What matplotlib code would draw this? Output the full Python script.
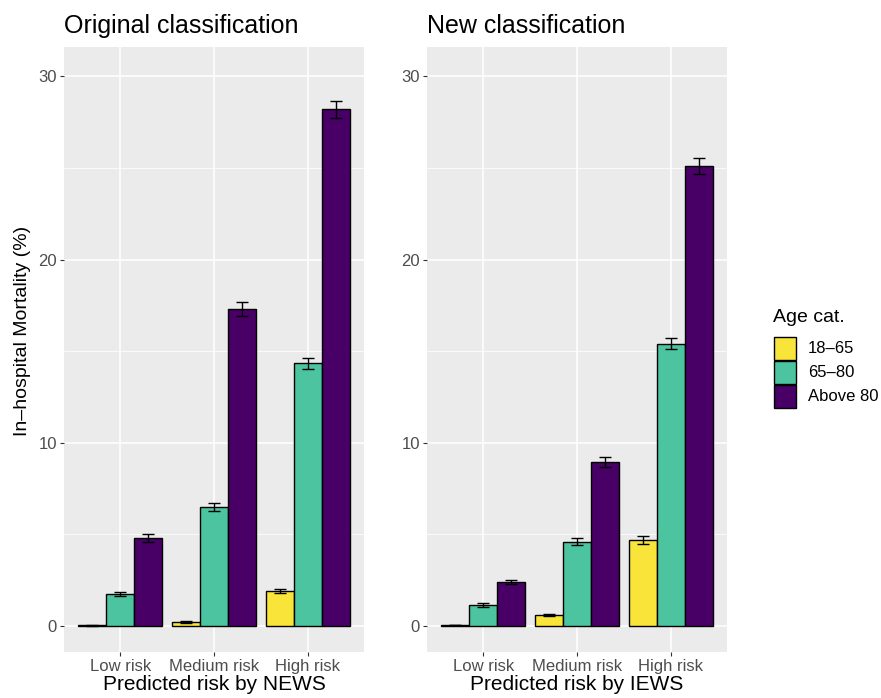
import matplotlib
matplotlib.use("Agg")
import matplotlib.pyplot as plt
import numpy as np
from matplotlib.patches import Rectangle

plt.rcParams["font.family"] = ["Liberation Sans", "DejaVu Sans"]

risk_levels = ["Low risk", "Medium risk", "High risk"]
age_groups = ["18–65", "65–80", "Above 80"]
age_colors = ["#F9E43A", "#4CC4A0", "#480066"]

# mortality (%) per age group, one value per risk level
news_mortality = {
    "18–65": [0.05, 0.2, 1.9],
    "65–80": [1.75, 6.5, 14.35],
    "Above 80": [4.8, 17.3, 28.2],
}
news_err = {
    "18–65": [0.03, 0.05, 0.12],
    "65–80": [0.12, 0.2, 0.3],
    "Above 80": [0.2, 0.38, 0.45],
}
iews_mortality = {
    "18–65": [0.05, 0.6, 4.7],
    "65–80": [1.15, 4.6, 15.4],
    "Above 80": [2.4, 8.95, 25.1],
}
iews_err = {
    "18–65": [0.02, 0.05, 0.2],
    "65–80": [0.1, 0.18, 0.3],
    "Above 80": [0.1, 0.25, 0.45],
}

W, H = 881, 698
fig = plt.figure(figsize=(W / 100, H / 100), dpi=100)


def px_axes(x0, x1, y0, y1):
    return fig.add_axes([x0 / W, 1 - y1 / H, (x1 - x0) / W, (y1 - y0) / H])


def draw_panel(ax, values, errors, title, xlabel):
    ax.set_facecolor("#EBEBEB")
    for s in ax.spines.values():
        s.set_visible(False)
    x = np.arange(1, len(risk_levels) + 1)
    bw = 0.3
    for i, grp in enumerate(age_groups):
        pos = x + (i - 1) * bw
        ax.bar(pos, values[grp], width=bw, color=age_colors[i],
               edgecolor="black", linewidth=1.0, zorder=3)
        ax.errorbar(pos, values[grp], yerr=errors[grp], fmt="none",
                    ecolor="black", elinewidth=1.0, capsize=4.3,
                    capthick=1.0, zorder=4)
    ax.set_xlim(0.4, 3.6)
    ax.set_ylim(-1.42, 31.6)
    ax.set_xticks(x)
    ax.set_xticklabels(risk_levels)
    ax.set_yticks([0, 10, 20, 30])
    ax.set_yticks([5, 15, 25], minor=True)
    ax.grid(True, which="major", color="white", linewidth=1.1, zorder=0)
    ax.grid(True, which="minor", axis="y", color="white", linewidth=0.55, zorder=0)
    ax.set_axisbelow(True)
    ax.tick_params(axis="both", which="major", length=3, width=0.8,
                   color="#333333", labelcolor="#4D4D4D", labelsize=12, pad=2)
    ax.tick_params(axis="y", which="minor", length=0)
    ax.set_xlabel(xlabel, fontsize=15, labelpad=1)
    ax.set_title(title, fontsize=18, loc="left", pad=10)


ax1 = px_axes(64, 364, 47, 652)
ax2 = px_axes(427, 727, 47, 652)
draw_panel(ax1, news_mortality, news_err, "Original classification", "Predicted risk by NEWS")
draw_panel(ax2, iews_mortality, iews_err, "New classification", "Predicted risk by IEWS")
ax1.set_ylabel("In–hospital Mortality (%)", fontsize=14)
ax1.yaxis.set_label_coords(-0.11, 0.53)

# legend drawn in figure pixels
fig.text(773 / W, 1 - 318 / H, "Age cat.", fontsize=14, va="center", ha="left")
for i, grp in enumerate(age_groups):
    y0 = 337 + i * 24
    fig.add_artist(Rectangle((774 / W, 1 - (y0 + 23) / H), 22 / W, 23 / H,
                             transform=fig.transFigure, facecolor=age_colors[i],
                             edgecolor="black", linewidth=1.0))
    fig.text(808 / W, 1 - (y0 + 11.5) / H, grp, fontsize=12, va="center", ha="left")

fig.savefig("out.png", dpi=100)
